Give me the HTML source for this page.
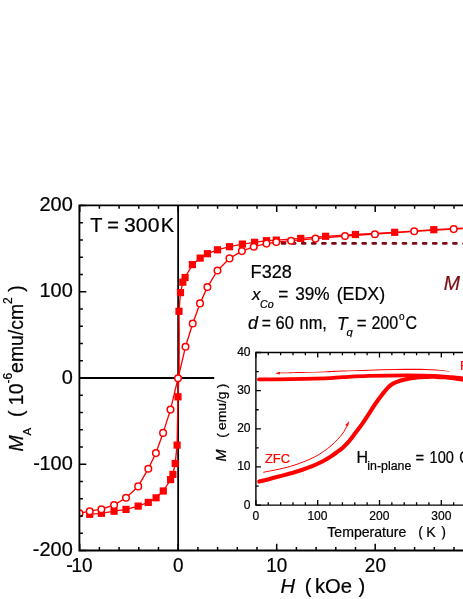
<!DOCTYPE html>
<html><head><meta charset="utf-8"><title>chart</title>
<style>text{stroke-width:.22px}html,body{margin:0;padding:0;background:#fff}body{width:463px;height:599px;overflow:hidden;font-family:"Liberation Sans",sans-serif}</style>
</head><body>
<svg width="463" height="599" viewBox="0 0 463 599" style="display:block;will-change:transform;font-family:'Liberation Sans',sans-serif">
<rect x="0" y="0" width="463" height="599" fill="#fff"/>
<line x1="79.40" y1="378.00" x2="214.3" y2="378.00" stroke="#000" stroke-width="1.8"/>
<line x1="178.15" y1="205.30" x2="178.15" y2="550.50" stroke="#000" stroke-width="1.8"/>
<line x1="282.0" y1="243.4" x2="472" y2="243.4" stroke="#7d0a14" stroke-width="2.6" stroke-linecap="round" stroke-dasharray="3.1 6.98"/>
<clipPath id="pc"><rect x="79.40" y="205.30" width="400" height="345.20"/></clipPath>
<g clip-path="url(#pc)">
<polyline points="473.0,227.5 433.8,229.7 394.7,232.3 355.4,234.5 325.6,236.3 300.7,238.4 276.3,240.1 266.5,240.7 254.6,242.3 242.4,244.1 229.5,246.7 217.5,249.8 207.4,253.7 200.2,258.1 192.4,264.6 185.1,277.5 182.8,282.2 180.5,292.6 179.0,311.3 179.2,335.0 179.1,368.0 178.0,396.8 177.1,445.1 175.2,463.5 172.9,474.4 170.6,479.6 163.3,491.0 156.1,497.8 148.3,502.4 138.2,506.1 126.0,509.4 114.1,511.2 101.4,513.3 89.7,514.3" fill="none" stroke="#ff0000" stroke-width="1.35" stroke-linejoin="round"/>
<polyline points="493.0,227.0 453.7,229.1 414.2,231.3 374.9,234.2 345.0,236.0 315.5,238.6 291.1,240.7 276.3,242.1 266.5,243.6 253.8,246.7 241.9,251.1 229.5,258.4 217.5,270.5 207.4,287.1 200.0,303.4 192.7,323.5 185.5,346.8 178.0,378.3 170.5,409.6 163.1,432.9 155.9,453.1 148.3,468.7 138.2,486.4 126.0,497.8 114.1,505.0 101.4,509.2 89.7,511.2 79.5,513.3" fill="none" stroke="#ff0000" stroke-width="1.35" stroke-linejoin="round"/>
<rect x="469.40" y="223.90" width="7.2" height="7.2" fill="#ff0000"/>
<rect x="430.20" y="226.10" width="7.2" height="7.2" fill="#ff0000"/>
<rect x="391.10" y="228.70" width="7.2" height="7.2" fill="#ff0000"/>
<rect x="351.80" y="230.90" width="7.2" height="7.2" fill="#ff0000"/>
<rect x="322.00" y="232.70" width="7.2" height="7.2" fill="#ff0000"/>
<rect x="297.10" y="234.80" width="7.2" height="7.2" fill="#ff0000"/>
<rect x="272.70" y="236.50" width="7.2" height="7.2" fill="#ff0000"/>
<rect x="262.90" y="237.10" width="7.2" height="7.2" fill="#ff0000"/>
<rect x="251.00" y="238.70" width="7.2" height="7.2" fill="#ff0000"/>
<rect x="238.80" y="240.50" width="7.2" height="7.2" fill="#ff0000"/>
<rect x="225.90" y="243.10" width="7.2" height="7.2" fill="#ff0000"/>
<rect x="213.90" y="246.20" width="7.2" height="7.2" fill="#ff0000"/>
<rect x="203.80" y="250.10" width="7.2" height="7.2" fill="#ff0000"/>
<rect x="196.60" y="254.50" width="7.2" height="7.2" fill="#ff0000"/>
<rect x="188.80" y="261.00" width="7.2" height="7.2" fill="#ff0000"/>
<rect x="181.50" y="273.90" width="7.2" height="7.2" fill="#ff0000"/>
<rect x="179.20" y="278.60" width="7.2" height="7.2" fill="#ff0000"/>
<rect x="176.90" y="289.00" width="7.2" height="7.2" fill="#ff0000"/>
<rect x="175.40" y="307.70" width="7.2" height="7.2" fill="#ff0000"/>
<rect x="174.40" y="393.20" width="7.2" height="7.2" fill="#ff0000"/>
<rect x="173.50" y="441.50" width="7.2" height="7.2" fill="#ff0000"/>
<rect x="171.60" y="459.90" width="7.2" height="7.2" fill="#ff0000"/>
<rect x="169.30" y="470.80" width="7.2" height="7.2" fill="#ff0000"/>
<rect x="167.00" y="476.00" width="7.2" height="7.2" fill="#ff0000"/>
<rect x="159.70" y="487.40" width="7.2" height="7.2" fill="#ff0000"/>
<rect x="152.50" y="494.20" width="7.2" height="7.2" fill="#ff0000"/>
<rect x="144.70" y="498.80" width="7.2" height="7.2" fill="#ff0000"/>
<rect x="134.60" y="502.50" width="7.2" height="7.2" fill="#ff0000"/>
<rect x="122.40" y="505.80" width="7.2" height="7.2" fill="#ff0000"/>
<rect x="110.50" y="507.60" width="7.2" height="7.2" fill="#ff0000"/>
<rect x="97.80" y="509.70" width="7.2" height="7.2" fill="#ff0000"/>
<rect x="86.10" y="510.70" width="7.2" height="7.2" fill="#ff0000"/>
<circle cx="493.00" cy="227.00" r="3.3" fill="#fff" stroke="#ff0000" stroke-width="1.5"/>
<circle cx="453.70" cy="229.10" r="3.3" fill="#fff" stroke="#ff0000" stroke-width="1.5"/>
<circle cx="414.20" cy="231.30" r="3.3" fill="#fff" stroke="#ff0000" stroke-width="1.5"/>
<circle cx="374.90" cy="234.20" r="3.3" fill="#fff" stroke="#ff0000" stroke-width="1.5"/>
<circle cx="345.00" cy="236.00" r="3.3" fill="#fff" stroke="#ff0000" stroke-width="1.5"/>
<circle cx="315.50" cy="238.60" r="3.3" fill="#fff" stroke="#ff0000" stroke-width="1.5"/>
<circle cx="291.10" cy="240.70" r="3.3" fill="#fff" stroke="#ff0000" stroke-width="1.5"/>
<circle cx="276.30" cy="242.10" r="3.3" fill="#fff" stroke="#ff0000" stroke-width="1.5"/>
<circle cx="266.50" cy="243.60" r="3.3" fill="#fff" stroke="#ff0000" stroke-width="1.5"/>
<circle cx="253.80" cy="246.70" r="3.3" fill="#fff" stroke="#ff0000" stroke-width="1.5"/>
<circle cx="241.90" cy="251.10" r="3.3" fill="#fff" stroke="#ff0000" stroke-width="1.5"/>
<circle cx="229.50" cy="258.40" r="3.3" fill="#fff" stroke="#ff0000" stroke-width="1.5"/>
<circle cx="217.50" cy="270.50" r="3.3" fill="#fff" stroke="#ff0000" stroke-width="1.5"/>
<circle cx="207.40" cy="287.10" r="3.3" fill="#fff" stroke="#ff0000" stroke-width="1.5"/>
<circle cx="200.00" cy="303.40" r="3.3" fill="#fff" stroke="#ff0000" stroke-width="1.5"/>
<circle cx="192.70" cy="323.50" r="3.3" fill="#fff" stroke="#ff0000" stroke-width="1.5"/>
<circle cx="185.50" cy="346.80" r="3.3" fill="#fff" stroke="#ff0000" stroke-width="1.5"/>
<circle cx="178.00" cy="378.30" r="3.3" fill="#fff" stroke="#ff0000" stroke-width="1.5"/>
<circle cx="170.50" cy="409.60" r="3.3" fill="#fff" stroke="#ff0000" stroke-width="1.5"/>
<circle cx="163.10" cy="432.90" r="3.3" fill="#fff" stroke="#ff0000" stroke-width="1.5"/>
<circle cx="155.90" cy="453.10" r="3.3" fill="#fff" stroke="#ff0000" stroke-width="1.5"/>
<circle cx="148.30" cy="468.70" r="3.3" fill="#fff" stroke="#ff0000" stroke-width="1.5"/>
<circle cx="138.20" cy="486.40" r="3.3" fill="#fff" stroke="#ff0000" stroke-width="1.5"/>
<circle cx="126.00" cy="497.80" r="3.3" fill="#fff" stroke="#ff0000" stroke-width="1.5"/>
<circle cx="114.10" cy="505.00" r="3.3" fill="#fff" stroke="#ff0000" stroke-width="1.5"/>
<circle cx="101.40" cy="509.20" r="3.3" fill="#fff" stroke="#ff0000" stroke-width="1.5"/>
<circle cx="89.70" cy="511.20" r="3.3" fill="#fff" stroke="#ff0000" stroke-width="1.5"/>
<circle cx="79.50" cy="513.30" r="3.3" fill="#fff" stroke="#ff0000" stroke-width="1.5"/>
</g>
<path d="M470 205.30H79.40V550.50H470" fill="none" stroke="#000" stroke-width="1.85"/>
<path d="M79.70 205.30v6.8M79.70 550.50v-6.8M99.40 205.30v3.5M99.40 550.50v-3.5M119.10 205.30v3.5M119.10 550.50v-3.5M138.80 205.30v3.5M138.80 550.50v-3.5M158.50 205.30v3.5M158.50 550.50v-3.5M178.20 205.30v6.8M178.20 550.50v-6.8M197.90 205.30v3.5M197.90 550.50v-3.5M217.60 205.30v3.5M217.60 550.50v-3.5M237.30 205.30v3.5M237.30 550.50v-3.5M257.00 205.30v3.5M257.00 550.50v-3.5M276.70 205.30v6.8M276.70 550.50v-6.8M296.40 205.30v3.5M296.40 550.50v-3.5M316.10 205.30v3.5M316.10 550.50v-3.5M335.80 205.30v3.5M335.80 550.50v-3.5M355.50 205.30v3.5M355.50 550.50v-3.5M375.20 205.30v6.8M375.20 550.50v-6.8M394.90 205.30v3.5M394.90 550.50v-3.5M414.60 205.30v3.5M414.60 550.50v-3.5M434.30 205.30v3.5M434.30 550.50v-3.5M454.00 205.30v3.5M454.00 550.50v-3.5M79.40 550.50h6.9M79.40 533.25h3.5M79.40 516.00h3.5M79.40 498.75h3.5M79.40 481.50h3.5M79.40 464.25h6.9M79.40 447.00h3.5M79.40 429.75h3.5M79.40 412.50h3.5M79.40 395.25h3.5M79.40 378.00h6.9M79.40 360.75h3.5M79.40 343.50h3.5M79.40 326.25h3.5M79.40 309.00h3.5M79.40 291.75h6.9M79.40 274.50h3.5M79.40 257.25h3.5M79.40 240.00h3.5M79.40 222.75h3.5M79.40 205.50h6.9" fill="none" stroke="#000" stroke-width="1.5"/>
<text transform="translate(39.45 211.10) scale(1.0350 1)" font-size="19.3" stroke="#000">200</text>
<text transform="translate(39.45 297.35) scale(1.0350 1)" font-size="19.3" stroke="#000">100</text>
<text transform="translate(61.67 383.60) scale(1.0350 1)" font-size="19.3" stroke="#000">0</text>
<text transform="translate(39.45 469.85) scale(1.0350 1)" font-size="19.3" stroke="#000">100</text>
<text transform="translate(33.31 469.85) scale(1.0350 1)" font-size="19.3" stroke="#000">-</text>
<text transform="translate(39.45 556.10) scale(1.0350 1)" font-size="19.3" stroke="#000">200</text>
<text transform="translate(32.79 556.10) scale(1.0350 1)" font-size="19.3" stroke="#000">-</text>
<text transform="translate(66.21 572.00) scale(1.0350 1)" font-size="19.3" stroke="#000">-</text>
<text transform="translate(71.60 572.00) scale(0.9800 1)" font-size="19.3" stroke="#000">10</text>
<text transform="translate(172.94 572.00) scale(0.9800 1)" font-size="19.3" stroke="#000">0</text>
<text transform="translate(266.13 572.00) scale(0.9800 1)" font-size="19.3" stroke="#000">10</text>
<text transform="translate(364.87 572.00) scale(0.9800 1)" font-size="19.3" stroke="#000">20</text>
<text transform="translate(280.38 592.60) scale(1.0300 1)" font-size="19.6" font-style="italic" stroke="#000">H</text>
<text transform="translate(304.65 592.60) scale(1.0300 1)" font-size="19.6" stroke="#000">(</text>
<text transform="translate(314.94 592.60) scale(1.0300 1)" font-size="19.6" stroke="#000">kOe</text>
<text transform="translate(358.53 592.60) scale(1.0300 1)" font-size="19.6" stroke="#000">)</text>
<text transform="translate(23.3 451.6) rotate(-90)" font-size="19.4" stroke="#000" xml:space="preserve"><tspan font-style="italic">M</tspan><tspan font-size="11.5" dy="7.5">A</tspan><tspan dy="-7.5">  ( 10</tspan><tspan font-size="12" dy="-11.3">-6</tspan><tspan dy="11.3">emu/cm</tspan><tspan font-size="12" dy="-11.3">2</tspan><tspan dy="11.3"> )</tspan></text>
<text transform="translate(90.15 231.50) scale(1.0200 1)" font-size="19.6" stroke="#000">T</text>
<text transform="translate(107.22 231.50) scale(1.0200 1)" font-size="19.6" stroke="#000">=</text>
<text transform="translate(124.09 231.50) scale(1.0805 1)" font-size="19.6" stroke="#000">300</text>
<text transform="translate(160.66 231.50) scale(1.0200 1)" font-size="19.6" stroke="#000">K</text>
<text transform="translate(250.61 277.60) scale(1.0116 1)" font-size="17.9" stroke="#000">F328</text>
<text transform="translate(251.98 300.10) scale(1.0000 1)" font-size="17.0" font-style="italic" stroke="#000">x</text>
<text transform="translate(260.01 307.60) scale(1.0660 1)" font-size="10" font-style="italic" stroke="#000">Co</text>
<text transform="translate(278.16 300.10) scale(0.9659 1)" font-size="17.9" stroke="#000">=</text>
<text transform="translate(295.14 300.10) scale(0.9621 1)" font-size="17.9" stroke="#000">39%</text>
<text transform="translate(336.70 300.10) scale(0.9934 1)" font-size="17.9" stroke="#000">(EDX)</text>
<text transform="translate(247.90 329.40) scale(1.0000 1)" font-size="17.9" font-style="italic" stroke="#000">d</text>
<text transform="translate(261.64 329.40) scale(0.8739 1)" font-size="17.9" stroke="#000">=</text>
<text transform="translate(275.56 329.40) scale(0.9234 1)" font-size="17.9" stroke="#000">60</text>
<text transform="translate(299.61 329.40) scale(0.9134 1)" font-size="17.9" stroke="#000">nm,</text>
<text transform="translate(337.03 329.80) scale(0.9500 1)" font-size="18.4" font-style="italic" stroke="#000">T</text>
<text transform="translate(346.62 336.00) scale(1.0000 1)" font-size="11.2" font-style="italic" stroke="#000">q</text>
<text transform="translate(356.78 329.40) scale(0.9429 1)" font-size="17.9" stroke="#000">=</text>
<text transform="translate(371.39 329.40) scale(0.8986 1)" font-size="17.9" stroke="#000">200</text>
<text transform="translate(398.98 319.60) scale(1.0000 1)" font-size="10" stroke="#000">o</text>
<text transform="translate(405.39 329.40) scale(0.8910 1)" font-size="17.9" stroke="#000">C</text>
<text transform="translate(443.80 290.20) scale(1.0000 1)" font-size="19.5" font-style="italic" fill="#7d0a14" stroke="#7d0a14">M</text>
<rect x="214.8" y="337.2" width="260" height="205.8" fill="#fff"/>
<path d="M259.2 481.6C260.7 481.2 264.7 480.2 268.0 479.4C271.3 478.6 275.1 477.6 278.8 476.6C282.5 475.6 286.1 474.6 290.0 473.5C293.9 472.4 299.0 470.8 302.5 469.7C306.0 468.6 308.2 467.8 311.0 466.7C313.8 465.6 316.8 464.2 319.2 463.0C321.6 461.8 323.5 460.8 325.5 459.7C327.5 458.6 329.2 457.6 331.0 456.4C332.8 455.2 334.5 454.0 336.5 452.5C338.5 451.0 340.9 449.3 343.0 447.4C345.1 445.4 347.2 443.3 349.4 440.8C351.5 438.3 353.7 435.2 355.9 432.3C358.1 429.4 360.2 426.7 362.4 423.6C364.6 420.5 366.7 417.1 368.9 413.8C371.1 410.5 373.2 406.9 375.4 403.8C377.5 400.7 380.2 397.1 381.8 395.0C383.4 392.9 384.0 392.2 385.0 391.0C386.0 389.8 387.0 388.6 388.0 387.6C389.0 386.6 389.9 385.8 391.0 385.0C392.1 384.2 392.8 383.6 394.4 382.9C396.0 382.1 398.7 381.2 400.9 380.5C403.1 379.8 405.2 379.3 407.4 378.9C409.6 378.5 411.8 378.2 413.9 377.9C416.0 377.6 417.8 377.4 420.0 377.2C422.2 377.0 424.5 377.0 427.0 376.9C429.5 376.8 432.0 376.7 435.0 376.8C438.0 376.9 441.7 377.0 445.0 377.3C448.3 377.6 451.2 378.0 455.0 378.5C458.8 379.0 465.8 380.0 468.0 380.3" fill="none" stroke="#ff0000" stroke-width="4.1" stroke-linecap="round"/>
<path d="M258.9 379.4C264.1 379.4 279.0 379.4 290.0 379.2C301.0 379.0 316.2 378.7 325.0 378.4C333.8 378.1 335.7 377.6 343.0 377.2C350.3 376.8 358.1 376.2 368.9 375.9C379.7 375.6 397.0 375.4 407.8 375.4C418.6 375.4 426.4 375.6 433.7 375.9C441.0 376.2 446.2 376.7 451.9 377.2C457.6 377.7 465.3 378.7 468.0 379.0" fill="none" stroke="#ff0000" stroke-width="3.8" stroke-linecap="round"/>
<path d="M263.3 472.3C267.9 471.3 282.1 468.9 290.6 466.3C299.1 463.8 307.7 460.4 314.4 457.0C321.1 453.6 326.4 449.6 331.0 445.8C335.6 442.0 339.6 437.4 342.3 434.0C345.0 430.6 346.4 426.8 347.2 425.4" fill="none" stroke="#ff0000" stroke-width="1"/>
<path d="M349.0 421.6L347.8 426.2 345.6 425.0z" fill="#ff0000" stroke="#ff0000" stroke-width="0.4"/>
<path d="M278.5 372.7C282.1 372.6 292.2 372.4 300.0 372.1C307.8 371.9 317.8 371.7 325.0 371.4C332.2 371.1 335.7 370.8 343.0 370.6C350.3 370.3 360.3 370.0 368.9 369.7C377.5 369.4 386.1 369.1 394.8 368.9C403.5 368.8 413.3 368.6 420.8 368.8C428.3 368.9 435.2 369.4 440.0 369.9C444.8 370.3 448.2 371.0 449.8 371.2L449.8 371.6C448.2 371.5 444.8 371.0 440.0 370.8C435.2 370.5 428.3 370.1 420.8 370.0C413.3 369.9 403.5 370.0 394.8 370.1C386.1 370.2 377.5 370.5 368.9 370.7C360.3 370.9 350.3 371.2 343.0 371.4C335.7 371.7 332.2 372.0 325.0 372.2C317.8 372.4 307.8 372.7 300.0 372.9C292.2 373.0 282.1 373.2 278.5 373.3Z" fill="#ff0000"/>
<path d="M275.2 373.2l4.7 -1.35v2.7z" fill="#ff0000"/>
<path d="M470 352.50H255.90V505.10H470" fill="none" stroke="#000" stroke-width="1.4"/>
<path d="M255.90 352.50v5.0M255.90 505.10v-5.0M268.26 352.50v2.8M268.26 505.10v-2.8M280.62 352.50v2.8M280.62 505.10v-2.8M292.98 352.50v2.8M292.98 505.10v-2.8M305.34 352.50v2.8M305.34 505.10v-2.8M317.70 352.50v5.0M317.70 505.10v-5.0M330.06 352.50v2.8M330.06 505.10v-2.8M342.42 352.50v2.8M342.42 505.10v-2.8M354.78 352.50v2.8M354.78 505.10v-2.8M367.14 352.50v2.8M367.14 505.10v-2.8M379.50 352.50v5.0M379.50 505.10v-5.0M391.86 352.50v2.8M391.86 505.10v-2.8M404.22 352.50v2.8M404.22 505.10v-2.8M416.58 352.50v2.8M416.58 505.10v-2.8M428.94 352.50v2.8M428.94 505.10v-2.8M441.30 352.50v5.0M441.30 505.10v-5.0M453.66 352.50v2.8M453.66 505.10v-2.8M466.02 352.50v2.8M466.02 505.10v-2.8M255.90 505.10h5.0M255.90 486.03h2.8M255.90 466.95h5.0M255.90 447.88h2.8M255.90 428.80h5.0M255.90 409.73h2.8M255.90 390.65h5.0M255.90 371.58h2.8M255.90 352.50h5.0" fill="none" stroke="#000" stroke-width="1.3"/>
<text transform="translate(243.86 508.50) scale(0.9000 1)" font-size="13.4" stroke="#000">0</text>
<text transform="translate(237.16 470.35) scale(0.9000 1)" font-size="13.4" stroke="#000">10</text>
<text transform="translate(237.16 432.20) scale(0.9000 1)" font-size="13.4" stroke="#000">20</text>
<text transform="translate(237.16 394.05) scale(0.9000 1)" font-size="13.4" stroke="#000">30</text>
<text transform="translate(237.16 355.90) scale(0.9000 1)" font-size="13.4" stroke="#000">40</text>
<text transform="translate(252.55 520.00) scale(0.9000 1)" font-size="13.4" stroke="#000">0</text>
<text transform="translate(307.42 520.00) scale(0.9000 1)" font-size="13.4" stroke="#000">100</text>
<text transform="translate(369.37 520.00) scale(0.9000 1)" font-size="13.4" stroke="#000">200</text>
<text transform="translate(431.25 520.00) scale(0.9000 1)" font-size="13.4" stroke="#000">300</text>
<text transform="translate(327.28 537.00) scale(1.0000 1)" font-size="14.1" stroke="#000">Temperature</text>
<text transform="translate(418.13 537.00) scale(1.0000 1)" font-size="14.1" stroke="#000">(</text>
<text transform="translate(426.24 537.00) scale(1.0000 1)" font-size="14.1" stroke="#000">K</text>
<text transform="translate(441.18 537.00) scale(1.0000 1)" font-size="14.1" stroke="#000">)</text>
<text transform="translate(226.40 461.45) rotate(-90) scale(1.0000 1)" font-size="14.5" font-style="italic" stroke="#000">M</text>
<text transform="translate(226.40 437.84) rotate(-90) scale(1.0000 1)" font-size="13.6" stroke="#000">(</text>
<text transform="translate(226.40 430.09) rotate(-90) scale(1.0235 1)" font-size="13.6" stroke="#000">emu/g</text>
<text transform="translate(226.40 388.28) rotate(-90) scale(1.0000 1)" font-size="13.6" stroke="#000">)</text>
<text transform="translate(264.89 462.90) scale(0.9700 1)" font-size="13.3" fill="#ff0000" stroke="#ff0000">ZFC</text>
<text transform="translate(459.91 370.20) scale(1.0000 1)" font-size="13.3" fill="#ff0000" stroke="#ff0000">FC</text>
<text transform="translate(356.39 463.40) scale(1.0000 1)" font-size="16" stroke="#000">H</text>
<text transform="translate(367.37 469.50) scale(0.9967 1)" font-size="12.4" stroke="#000">in-plane</text>
<text transform="translate(415.58 463.30) scale(0.9500 1)" font-size="15.6" stroke="#000">=</text>
<text transform="translate(429.59 463.40) scale(0.9368 1)" font-size="15.6" stroke="#000">100</text>
<text transform="translate(459.20 463.40) scale(0.9500 1)" font-size="15.6" stroke="#000">Oe</text>
<rect x="214.8" y="539.6" width="260" height="3.2" fill="#fff"/>
</svg>
</body></html>
